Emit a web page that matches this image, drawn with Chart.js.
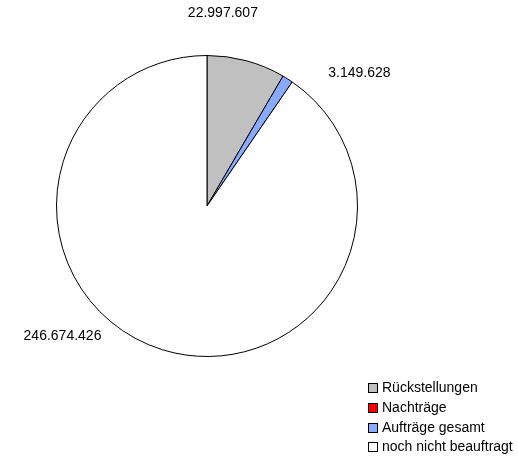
<!DOCTYPE html>
<html><head><meta charset="utf-8">
<script src="https://cdn.jsdelivr.net/npm/chart.js@4/dist/chart.umd.min.js"></script>
<style>html,body{margin:0;padding:0;background:#fff;}#wrap{width:518px;height:459px;position:relative;}</style>
</head><body><div id="wrap"><canvas id="c"></canvas></div>
<script>
const categories = ['Rückstellungen', 'Nachträge', 'Aufträge gesamt', 'noch nicht beauftragt'];
const values = [22997607, 0, 3149628, 246674426];
const colors = ['#C0C0C0', '#FF0000', '#88AAFF', '#FFFFFF'];

function fmt(n){ return String(n).replace(/\B(?=(\d{3})+(?!\d))/g, '.'); }

// label placement (angle clockwise from top in degrees, distance as factor of radius)
const labelPos = [{a:4.7,d:1.289},null,{a:49.0,d:1.342},{a:227.9,d:1.294}];

const overlay = {
  id:'overlay',
  afterDraw(chart){
    const ctx = chart.ctx;
    const meta = chart.getDatasetMeta(0);
    const arc0 = meta.data[0];
    const cx = arc0.x, cy = arc0.y, r = arc0.outerRadius;
    ctx.save();
    ctx.font = '14px "Liberation Sans", Arial, sans-serif';
    ctx.fillStyle = '#000';
    ctx.textAlign = 'center'; ctx.textBaseline = 'middle';
    values.forEach((v,i)=>{
      const p = labelPos[i]; if(!p || v===0) return;
      const t = p.a*Math.PI/180;
      ctx.fillText(fmt(v), cx + Math.sin(t)*p.d*r, cy - Math.cos(t)*p.d*r);
    });
    // legend
    ctx.textAlign='left';
    const lx = 368, ly = 388, step = 19.8;
    categories.forEach((c,i)=>{
      const y = Math.round(ly + i*step);
      ctx.fillStyle = colors[i];
      ctx.fillRect(lx+0.5, y-4.5, 9, 9);
      ctx.strokeStyle='#000'; ctx.lineWidth=1;
      ctx.strokeRect(lx+0.5, y-4.5, 9, 9);
      ctx.fillStyle='#000';
      ctx.fillText(c, lx+14, y+0.5);
    });
    ctx.restore();
  }
};

new Chart(document.getElementById('c'), {
  type:'pie',
  data:{labels:categories, datasets:[{data:values, backgroundColor:colors, borderColor:'#000', borderWidth:1}]},
  options:{
    responsive:true, maintainAspectRatio:false, animation:false,
    layout:{padding:{left:56, top:55, right:160, bottom:102}},
    plugins:{legend:{display:false}, tooltip:{enabled:false}}
  },
  plugins:[overlay]
});
</script></body></html>
